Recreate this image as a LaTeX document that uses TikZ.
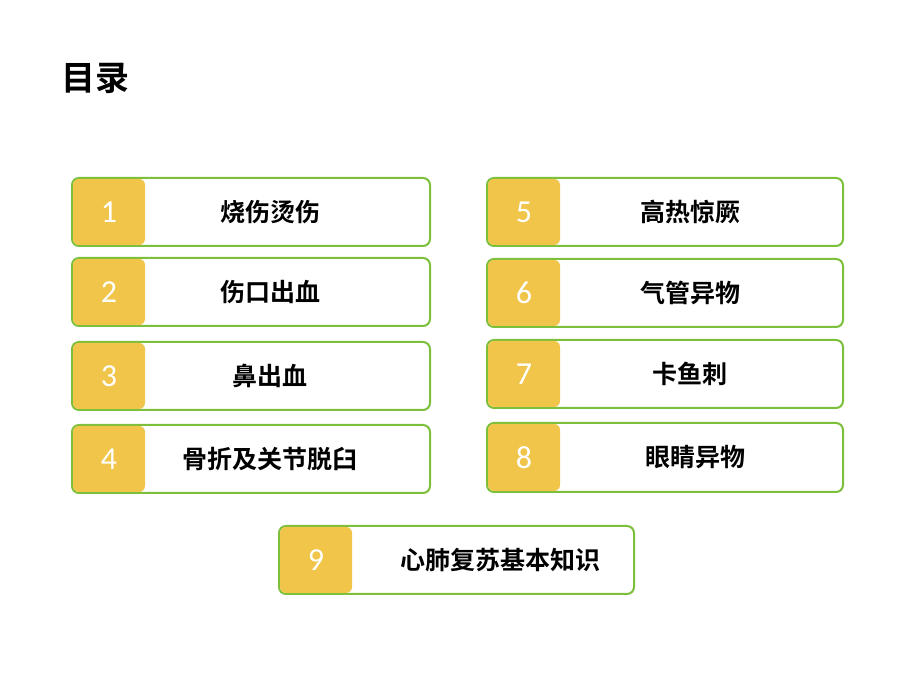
\documentclass[tikz,border=0pt]{standalone}
\usepackage{fontspec}
\newfontfamily\cjk{Noto Sans CJK SC Bold}
\newfontfamily\num{Carlito}
\definecolor{grn}{HTML}{7CBF3A}
\definecolor{ylw}{HTML}{F0C54A}
\begin{document}
\begin{tikzpicture}[x=1pt,y=1pt,
  frame/.style={draw=grn,line width=2pt,rounded corners=7pt,fill=white},
  tab/.style={fill=ylw,rounded corners=6pt},
  numtxt/.style={text=white,font=\num\fontsize{32}{32}\selectfont},
  lbl/.style={font=\cjk\fontsize{25}{25}\selectfont}]
\useasboundingbox (0,0) rectangle (920,690);
\node[anchor=west,inner sep=0pt,font=\cjk\fontsize{34}{34}\selectfont] (title) at (61,612) {目录};
\foreach \xa/\xb/\yt/\yb/\n/\t/\lx [count=\i] in {
 72/430/178/246/1/烧伤烫伤/270,
 72/430/258/326/2/伤口出血/270,
 72/430/342/410/3/鼻出血/270,
 72/430/425/493/4/骨折及关节脱臼/270,
 487/843/178/246/5/高热惊厥/690,
 487/843/259/327/6/气管异物/690,
 487/843/340/408/7/卡鱼刺/690,
 487/843/423/492/8/眼睛异物/695,
 279/634/526/594/9/心肺复苏基本知识/500}{
 \path[frame] (\xa,690-\yt) rectangle (\xb,690-\yb);
 \path[tab] (\xa+1,689-\yt) rectangle (\xa+73,691-\yb);
 \node[numtxt] (n\i) at (\xa+37,690-\yt/2-\yb/2) {\n};
 \node[lbl] (l\i) at (\lx,690-\yt/2-\yb/2) {\t};
}
\end{tikzpicture}
\end{document}
